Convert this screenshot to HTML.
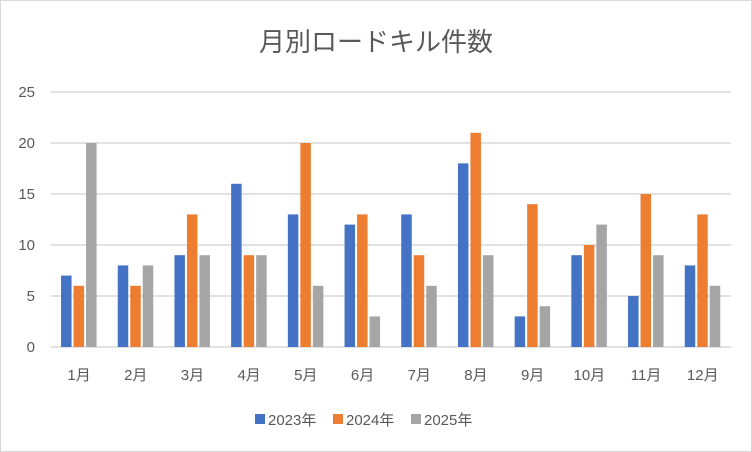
<!DOCTYPE html>
<html><head><meta charset="utf-8"><style>
body{margin:0;background:#fff}
svg{display:block;font-family:"Liberation Sans","Noto Sans CJK JP",sans-serif}
</style></head><body>
<svg width="752" height="452" xmlns="http://www.w3.org/2000/svg">
<rect x="0.5" y="0.5" width="751" height="451" fill="#fff" stroke="#d9d9d9"/>
<text x="376" y="51" text-anchor="middle" font-size="26" fill="#595959">月別ロードキル件数</text>
<g id="grid"></g>
<g id="chart"></g>
<g font-size="15" fill="#595959">
<rect x="255" y="414" width="10" height="10" fill="#4472c4"/><text x="268" y="425">2023年</text>
<rect x="333" y="414" width="10" height="10" fill="#ed7d31"/><text x="346" y="425">2024年</text>
<rect x="411" y="414" width="10" height="10" fill="#a5a5a5"/><text x="424" y="425">2025年</text>
</g>
</svg>
<script>
const ns="http://www.w3.org/2000/svg";
const g=document.getElementById('chart'),gr=document.getElementById('grid');
function el(t,a,txt,p){const e=document.createElementNS(ns,t);for(const k in a)e.setAttribute(k,a[k]);if(txt!=null)e.textContent=txt;(p||g).appendChild(e);return e;}
const y0=347,s=10.2,x0=50.7,cw=56.7;
for(let v=0;v<=25;v+=5){const y=y0-v*s;el('line',{x1:x0,x2:x0+cw*12,y1:y,y2:y,stroke:'#d9d9d9','stroke-width':1.5},null,gr);
el('text',{x:35,y:y+5,'text-anchor':'end','font-size':15,fill:'#595959'},v);}
const d=[[7,8,9,16,13,12,13,18,3,9,5,8],[6,6,13,9,20,13,9,21,14,10,15,13],[20,8,9,9,6,3,6,9,4,12,9,6]];
const c=['#4472c4','#ed7d31','#a5a5a5'];
for(let i=0;i<12;i++){const cx=x0+cw*(i+0.5);
el('text',{x:cx,y:380,'text-anchor':'middle','font-size':15,fill:'#595959'},(i+1)+'月');
for(let j=0;j<3;j++){const v=d[j][i];const x=cx-18+j*12.5;const h=v*s;
el('rect',{x:x,y:y0-h,width:10.5,height:h,fill:c[j]});}}
</script>
</body></html>
